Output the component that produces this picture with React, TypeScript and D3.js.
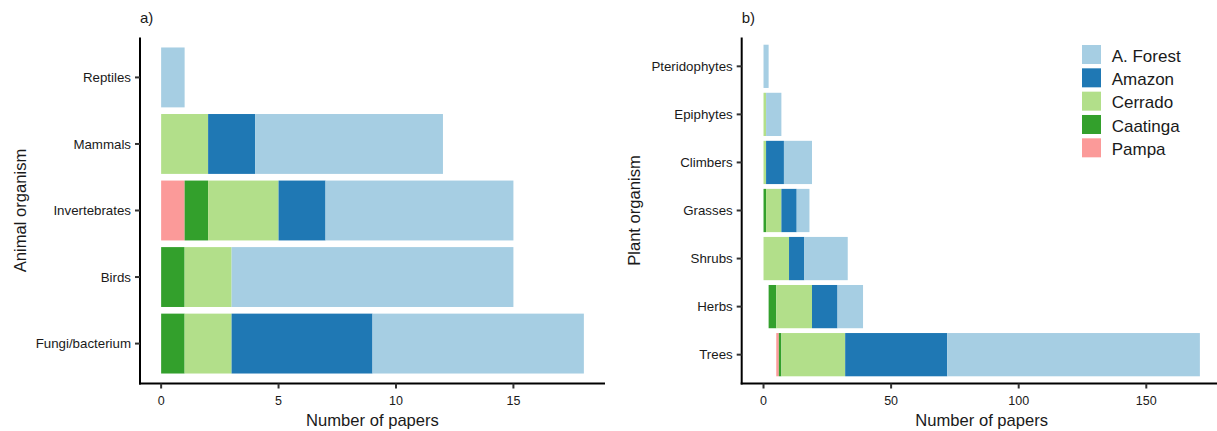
import React from 'react';
import * as d3 from 'd3';

// stacking order, left to right; "Unassigned" is the blank gap some plant bars start with
const BIOMES = ['Unassigned', 'Pampa', 'Caatinga', 'Cerrado', 'Amazon', 'A. Forest'];
const LEGEND_ORDER = ['A. Forest', 'Amazon', 'Cerrado', 'Caatinga', 'Pampa'];
const COLORS: Record<string, string> = {
  Unassigned: 'none',
  Pampa: '#FB9A99',
  Caatinga: '#33A02C',
  Cerrado: '#B2DF8A',
  Amazon: '#1F78B4',
  'A. Forest': '#A6CEE3',
};

// panel a
const ANIMALS = ['Reptiles', 'Mammals', 'Invertebrates', 'Birds', 'Fungi/bacterium'];
const animalUnassigned = [0, 0, 0, 0, 0];
const animalPampa = [0, 0, 1, 0, 0];
const animalCaatinga = [0, 0, 1, 1, 1];
const animalCerrado = [0, 2, 3, 2, 2];
const animalAmazon = [0, 2, 2, 0, 6];
const animalForest = [1, 8, 8, 12, 9];
const ANIMAL_TICKS = [0, 5, 10, 15];

// panel b
const PLANTS = ['Pteridophytes', 'Epiphytes', 'Climbers', 'Grasses', 'Shrubs', 'Herbs', 'Trees'];
const plantUnassigned = [0, 0, 0, 0, 0, 2, 5];
const plantPampa = [0, 0, 0, 0, 0, 0, 1];
const plantCaatinga = [0, 0, 0, 1, 0, 3, 1];
const plantCerrado = [0, 1, 1, 6, 10, 14, 25];
const plantAmazon = [0, 0, 7, 6, 6, 10, 40];
const plantForest = [2, 6, 11, 5, 17, 10, 99];
const PLANT_TICKS = [0, 50, 100, 150];

const FONT = '"Liberation Sans", Arial, sans-serif';
const INK = '#1a1a1a';

type Row = { name: string; [k: string]: number | string };

function rows(names: string[], series: number[][]): Row[] {
  return names.map((name, i) => {
    const r: Row = { name };
    BIOMES.forEach((b, j) => (r[b] = series[j][i]));
    return r;
  });
}

interface PanelProps {
  tag: string;
  yTitle: string;
  names: string[];
  series: number[][];
  ticks: number[];
  left: number;
  right: number;
  titleX: number;
}

const TOP = 37.5;
const BOTTOM = 383.5;

const Panel: React.FC<PanelProps> = ({ tag, yTitle, names, series, ticks, left, right, titleX }) => {
  const data = rows(names, series);
  const stacked = d3.stack<Row>().keys(BIOMES).value((d, k) => d[k] as number)(data);
  const maxX = d3.max(stacked[stacked.length - 1], (d) => d[1]) ?? 1;
  const pad = maxX * 0.05;

  const x = d3.scaleLinear().domain([-pad, maxX + pad]).range([left, right]);
  const y = d3.scalePoint<string>().domain(names).range([TOP, BOTTOM]).padding(0.6);
  const barH = y.step() * 0.9;

  return (
    <g fontFamily={FONT}>
      <text x={left} y={23} fontSize={15} fill={INK}>{tag}</text>

      {stacked.map((layer) => (
        <g key={layer.key} fill={COLORS[layer.key]}>
          {layer.map((d) => (
            <rect
              key={d.data.name}
              x={x(d[0])}
              width={Math.max(0, x(d[1]) - x(d[0]))}
              y={(y(d.data.name) ?? 0) - barH / 2}
              height={barH}
            />
          ))}
        </g>
      ))}

      {/* y axis */}
      <line x1={left} x2={left} y1={TOP} y2={BOTTOM + 1} stroke="#000" strokeWidth={2} />
      {names.map((n) => (
        <g key={n} transform={`translate(0,${y(n)})`}>
          <line x1={left - 5} x2={left} stroke="#333" strokeWidth={2} />
          <text x={left - 9} dy="0.35em" textAnchor="end" fontSize={13.3} fill={INK}>{n}</text>
        </g>
      ))}

      {/* x axis */}
      <line x1={left - 1} x2={right} y1={BOTTOM} y2={BOTTOM} stroke="#000" strokeWidth={2} />
      {ticks.map((t) => (
        <g key={t} transform={`translate(${x(t)},0)`}>
          <line y1={BOTTOM} y2={BOTTOM + 5} stroke="#333" strokeWidth={2} />
          <text y={404.5} textAnchor="middle" fontSize={12.5} fill={INK}>{t}</text>
        </g>
      ))}

      <text x={(left + right) / 2} y={425.5} textAnchor="middle" fontSize={16.6} fill={INK}>
        Number of papers
      </text>
      <text
        transform={`translate(${titleX},${(TOP + BOTTOM) / 2}) rotate(-90)`}
        textAnchor="middle"
        fontSize={16.6}
        fill={INK}
      >
        {yTitle}
      </text>
    </g>
  );
};

const App: React.FC = () => {
  return (
    <>
      <style>{'body{margin:0}'}</style>
      <svg width={1217} height={431} style={{ display: 'block', background: '#fff' }}>
        <Panel
          tag="a)"
          yTitle="Animal organism"
          names={ANIMALS}
          series={[animalUnassigned, animalPampa, animalCaatinga, animalCerrado, animalAmazon, animalForest]}
          ticks={ANIMAL_TICKS}
          left={140}
          right={605}
          titleX={25.5}
        />
        <Panel
          tag="b)"
          yTitle="Plant organism"
          names={PLANTS}
          series={[plantUnassigned, plantPampa, plantCaatinga, plantCerrado, plantAmazon, plantForest]}
          ticks={PLANT_TICKS}
          left={741.7}
          right={1221.7}
          titleX={639.5}
        />

        {/* legend */}
        <g fontFamily={FONT}>
          {LEGEND_ORDER.map((b, i) => (
            <g key={b} transform={`translate(1082,${45 + i * 23.33})`}>
              <rect width={19} height={19} fill={COLORS[b]} />
              <text x={29.7} y={16.7} fontSize={17} fill={INK}>{b}</text>
            </g>
          ))}
        </g>
      </svg>
    </>
  );
};

export default App;
